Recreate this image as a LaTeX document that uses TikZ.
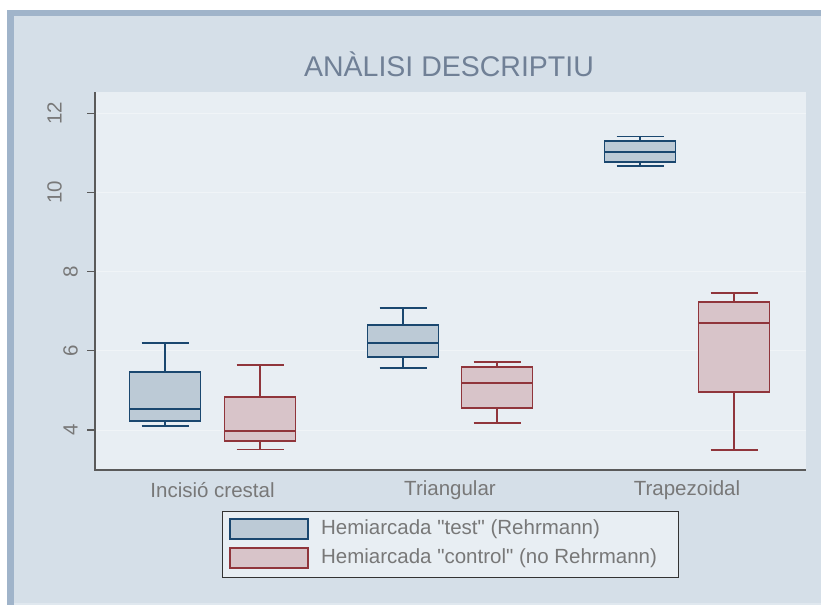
\documentclass[tikz,border=0pt]{standalone}
\usepackage{fontspec}
\setmainfont{Liberation Sans}[Ligatures=TeXOff]
\usetikzlibrary{positioning}
\definecolor{framebar}{RGB}{160,180,202}
\definecolor{outerbg}{RGB}{213,223,232}
\definecolor{plotbg}{RGB}{232,238,243}
\definecolor{gridcol}{RGB}{240,244,247}
\definecolor{axiscol}{RGB}{90,90,90}
\definecolor{labelgray}{RGB}{120,120,120}
\definecolor{titlegray}{RGB}{112,128,150}
\definecolor{testline}{RGB}{26,71,111}
\definecolor{testfill}{RGB}{188,202,214}
\definecolor{ctrlline}{RGB}{144,53,59}
\definecolor{ctrlfill}{RGB}{216,196,201}

\begin{document}
\begin{tikzpicture}[x=1pt,y=-1pt,
  axisline/.style={draw=axiscol, line width=1.2pt},
  gridline/.style={draw=gridcol, line width=1pt},
  ticklabel/.style={text=labelgray, font=\fontsize{20.5}{22}\selectfont, inner sep=0pt},
  grouplabel/.style={text=labelgray, font=\fontsize{20.5}{23}\selectfont, inner sep=0pt},
  boxpart/.style={line width=1.8pt},
  legendkey/.style={draw, line width=1.8pt, minimum width=78pt, minimum height=20pt, inner sep=0pt}]
% Frame and backgrounds
\useasboundingbox (0,0) rectangle (821,605);
\fill[white] (0,0) rectangle (821,605);
\fill[framebar] (7,10) rectangle (821,605);
\fill[outerbg] (14,16) rectangle (821,603);
\fill[plotbg!60!outerbg] (14,603) rectangle (821,605);
\fill[plotbg] (95,92) rectangle (806,470);

\def\yzero{430}
\def\ystep{39.6}

% Grid lines, ticks and tick labels
\foreach \v/\lx in {4/70.5,6/70.5,8/70.5,10/54.5,12/54.5} {
  \pgfmathsetmacro\yy{\yzero-(\v-4)*\ystep}
  \draw[gridline] (96,\yy) -- (806,\yy);
  \draw[axisline] (87,\yy) -- (95,\yy);
  \node[ticklabel, rotate=90] (tick\v) at (\lx,\yy) {\v};
}

% Axes
\draw[axisline] (95,92) -- (95,470) -- (806,470);

% Box plots: centre/low/q1/median/q3/high/line/fill
\foreach \cx/\lo/\qa/\md/\qb/\hi/\lc/\fc in {
  165/4.10/4.23/4.54/5.47/6.19/testline/testfill,
  260/3.51/3.72/3.97/4.83/5.65/ctrlline/ctrlfill,
  403/5.57/5.84/6.20/6.65/7.08/testline/testfill,
  497/4.18/4.56/5.19/5.59/5.72/ctrlline/ctrlfill,
  640/10.67/10.77/11.03/11.30/11.41/testline/testfill,
  734/3.49/4.96/6.70/7.23/7.46/ctrlline/ctrlfill} {
  \pgfmathsetmacro\ylo{\yzero-(\lo-4)*\ystep}
  \pgfmathsetmacro\yqa{\yzero-(\qa-4)*\ystep}
  \pgfmathsetmacro\ymd{\yzero-(\md-4)*\ystep}
  \pgfmathsetmacro\yqb{\yzero-(\qb-4)*\ystep}
  \pgfmathsetmacro\yhi{\yzero-(\hi-4)*\ystep}
  \draw[boxpart, draw=\lc] (\cx,\ylo) -- (\cx,\yqa);
  \draw[boxpart, draw=\lc] (\cx,\yqb) -- (\cx,\yhi);
  \draw[boxpart, draw=\lc] (\cx-23.5,\ylo) -- (\cx+23.5,\ylo);
  \draw[boxpart, draw=\lc] (\cx-23.5,\yhi) -- (\cx+23.5,\yhi);
  \draw[boxpart, draw=\lc, fill=\fc] (\cx-35.5,\yqa) rectangle (\cx+35.5,\yqb);
  \draw[boxpart, draw=\lc] (\cx-35.5,\ymd) -- (\cx+35.5,\ymd);
}

% Group labels
\node[grouplabel] (incisio) at (212.5,490) {Incisió crestal};
\node[grouplabel] (triang) at (450,490) {Triangular};
\node[grouplabel] (trapez) at (687,490) {Trapezoidal};

% Title
\node[text=titlegray, font=\fontsize{28.5}{32}\selectfont] (title) at (449,64) {ANÀLISI DESCRIPTIU};

% Legend
\draw[draw=black!80, fill=plotbg, line width=1pt] (222,511) rectangle (678,577);
\node[legendkey, draw=testline, fill=testfill] (keytest) at (269,529) {};
\node[legendkey, draw=ctrlline, fill=ctrlfill] (keyctrl) at (269,558) {};
\node[grouplabel, anchor=west, right=12pt of keytest] (legtest) {Hemiarcada "test" (Rehrmann)};
\node[grouplabel, anchor=west, right=12pt of keyctrl] (legctrl) {Hemiarcada "control" (no Rehrmann)};
\end{tikzpicture}
\end{document}
